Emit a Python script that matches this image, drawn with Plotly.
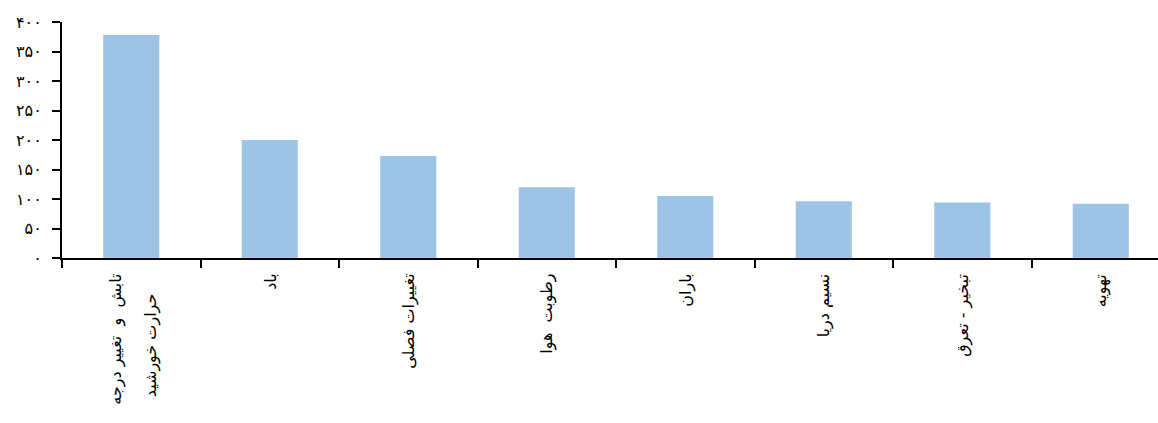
import plotly.graph_objects as go

# Factors and their counts
categories = ["تابش و تغییر درجه حرارت خورشید", "باد", "تغییرات فصلی", "رطوبت هوا",
              "باران", "نسیم دریا", "تبخیر - تعرق", "تهویه"]
values = [378, 200, 173, 120, 105, 96, 94, 92]
# Axis labels as drawn (first category wraps onto two lines)
label_lines = [["تابش\u00a0\u00a0و\u00a0\u00a0تغییر\u00a0درجه", "حرارت\u00a0خورشید"], ["باد"],
               ["تغییرات\u00a0فصلی"], ["رطوبت\u00a0\u00a0هوا"], ["باران"], ["نسیم\u00a0دریا"],
               ["تبخیر\u00a0-\u00a0تعرق"], ["تهویه"]]
y_tickvals = [0, 50, 100, 150, 200, 250, 300, 350, 400]
y_ticktext = ["۰", "۵۰", "۱۰۰", "۱۵۰", "۲۰۰", "۲۵۰", "۳۰۰", "۳۵۰", "۴۰۰"]

BAR_COLOR = "#9DC3E6"
FONT = "DejaVu Sans"
LABEL_SIZE = 16

fig = go.Figure(go.Bar(x=categories, y=values, marker=dict(color=BAR_COLOR, line=dict(width=0)),
                       width=0.405))

annotations = []
for cat, lines in zip(categories, label_lines):
    if len(lines) == 1:
        annotations.append(dict(x=cat, y=0, xref="x", yref="paper", text=lines[0], showarrow=False,
                                textangle=-90, xanchor="center", yanchor="top", yshift=-14,
                                font=dict(family=FONT, size=LABEL_SIZE, color="#000")))
    else:
        shifts = [(-16, -14), (20, -33)]
        for line, (xs, ys) in zip(lines, shifts):
            annotations.append(dict(x=cat, y=0, xref="x", yref="paper", text=line, showarrow=False,
                                    textangle=-90, xanchor="center", yanchor="top",
                                    xshift=xs, yshift=ys,
                                    font=dict(family=FONT, size=LABEL_SIZE, color="#000")))

fig.update_layout(
    width=1158, height=423,
    margin=dict(l=62, r=0, t=22, b=165),
    paper_bgcolor="white", plot_bgcolor="white",
    showlegend=False,
    bargap=0.6,
    annotations=annotations,
    xaxis=dict(type="category", range=[-0.5, 7.413], showgrid=False, zeroline=False,
               showline=True, linecolor="black", linewidth=2,
               ticks="outside", tickson="boundaries", ticklen=8, tickwidth=1.5, tickcolor="black",
               showticklabels=False),
    yaxis=dict(range=[0, 400], tickvals=y_tickvals, ticktext=y_ticktext, showgrid=False,
               zeroline=False, showline=True, linecolor="black", linewidth=2,
               ticks="outside", ticklen=8, tickwidth=1.5, tickcolor="black",
               ticklabelstandoff=7,
               tickfont=dict(family=FONT, size=16, color="#000")),
)

fig.write_html("out.html")
